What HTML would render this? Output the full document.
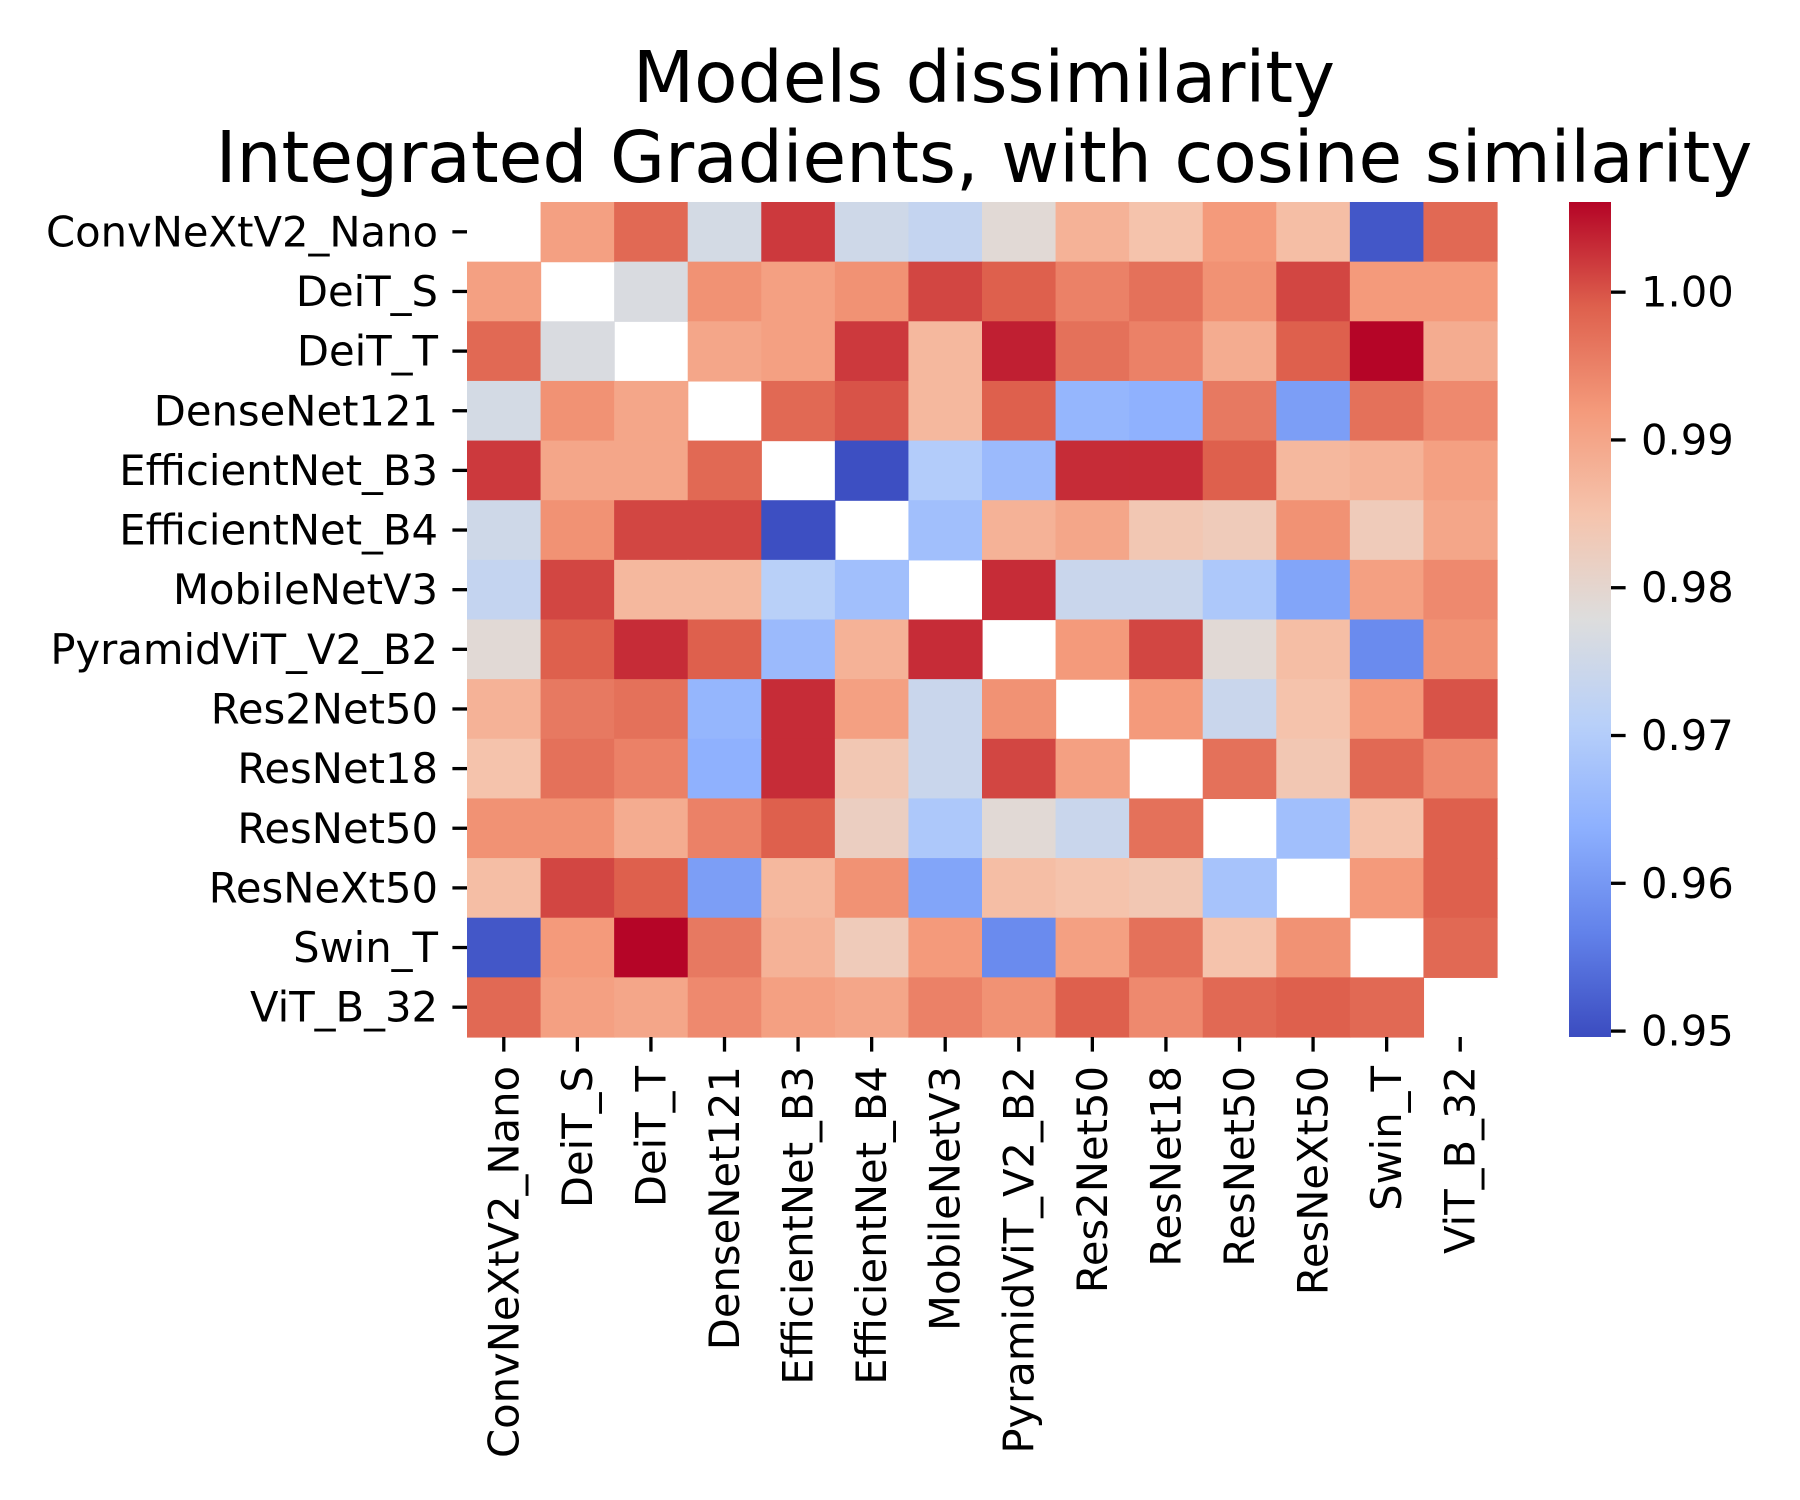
<!DOCTYPE html>
<html><head><meta charset="utf-8">
<style>
html,body{margin:0;padding:0;background:#fff;}
svg{display:block;font-family:"DejaVu Sans","Liberation Sans",sans-serif;}
</style></head>
<body>
<svg id="chart" width="1800" height="1500" viewBox="0 0 1800 1500" xmlns="http://www.w3.org/2000/svg">
  <defs>
    <linearGradient id="cw" x1="0" y1="1" x2="0" y2="0">
      <stop offset="0" stop-color="rgb(59,76,192)"/>
      <stop offset="0.125" stop-color="rgb(98,130,234)"/>
      <stop offset="0.25" stop-color="rgb(141,176,254)"/>
      <stop offset="0.375" stop-color="rgb(184,208,249)"/>
      <stop offset="0.5" stop-color="rgb(221,221,221)"/>
      <stop offset="0.625" stop-color="rgb(245,196,173)"/>
      <stop offset="0.75" stop-color="rgb(244,154,123)"/>
      <stop offset="0.875" stop-color="rgb(222,96,77)"/>
      <stop offset="1" stop-color="rgb(180,4,38)"/>
    </linearGradient>
  </defs>
  <text x="984" y="102" font-size="71" text-anchor="middle">Models dissimilarity</text>
  <text x="984" y="182" font-size="71" text-anchor="middle">Integrated Gradients, with cosine similarity</text>
  <g id="cells"></g>
  <g id="ylab"></g>
  <g id="xlab"></g>
  <rect x="1569" y="202" width="42" height="835" fill="url(#cw)"/>
  <g id="cbar"></g>
</svg>
<script>
const categories = ["ConvNeXtV2_Nano","DeiT_S","DeiT_T","DenseNet121","EfficientNet_B3","EfficientNet_B4","MobileNetV3","PyramidViT_V2_B2","Res2Net50","ResNet18","ResNet50","ResNeXt50","Swin_T","ViT_B_32"];
const row0 = [null,0.991,0.998,0.976,1.002,0.975,0.973,0.979,0.988,0.985,0.992,0.986,0.951,0.998];
const row1 = [0.991,null,0.977,0.993,0.991,0.993,1.001,0.999,0.995,0.997,0.993,1.001,0.992,0.992];
const row2 = [0.998,0.977,null,0.990,0.991,1.002,0.987,1.004,0.997,0.995,0.989,0.999,1.006,0.989];
const row3 = [0.976,0.993,0.990,null,0.998,1.000,0.987,0.999,0.965,0.964,0.996,0.961,0.997,0.994];
const row4 = [1.002,0.990,0.990,0.998,null,0.950,0.970,0.966,1.003,1.003,0.999,0.987,0.988,0.991];
const row5 = [0.975,0.993,1.001,1.001,0.950,null,0.967,0.988,0.990,0.984,0.983,0.993,0.983,0.990];
const row6 = [0.973,1.001,0.987,0.987,0.971,0.967,null,1.003,0.974,0.974,0.969,0.962,0.991,0.994];
const row7 = [0.979,0.999,1.003,0.999,0.966,0.988,1.003,null,0.992,1.001,0.979,0.986,0.958,0.993];
const row8 = [0.988,0.996,0.997,0.965,1.003,0.991,0.974,0.993,null,0.992,0.974,0.985,0.992,1.000];
const row9 = [0.985,0.997,0.995,0.964,1.003,0.984,0.974,1.001,0.991,null,0.997,0.984,0.998,0.994];
const row10 = [0.993,0.993,0.989,0.995,0.999,0.982,0.969,0.979,0.974,0.997,null,0.967,0.985,0.999];
const row11 = [0.986,1.001,0.999,0.961,0.987,0.993,0.962,0.986,0.985,0.984,0.968,null,0.992,0.999];
const row12 = [0.951,0.992,1.006,0.996,0.988,0.983,0.992,0.958,0.991,0.997,0.985,0.993,null,0.998];
const row13 = [0.998,0.991,0.990,0.994,0.991,0.990,0.995,0.993,0.999,0.994,0.998,0.999,0.998,null];
const values = [row0,row1,row2,row3,row4,row5,row6,row7,row8,row9,row10,row11,row12,row13];
const cbarTicks = [0.95,0.96,0.97,0.98,0.99,1.00];
const cbarTickLabels = ["0.95","0.96","0.97","0.98","0.99","1.00"];
const vmin = 0.9496, vmax = 1.0061;

const NS = "http://www.w3.org/2000/svg";
const L = 467, R = 1497, T = 202, B = 1037;
const n = categories.length;
const cw = (R - L) / n, ch = (B - T) / n;
const xPos = i => L + i * cw;
const yPos = i => T + i * ch;
const cbY = v => B - (v - vmin) / (vmax - vmin) * (B - T);

const stops = [[59,76,192],[98,130,234],[141,176,254],[184,208,249],[221,221,221],[245,196,173],[244,154,123],[222,96,77],[180,4,38]];
function cmap(v){
  let t = Math.max(0, Math.min(1, (v - vmin) / (vmax - vmin)));
  const p = t * 8, i = Math.min(7, Math.floor(p)), f = p - i;
  const a = stops[i], b = stops[i+1];
  return "rgb(" + a.map((c,k)=>Math.round(c + (b[k]-c)*f)).join(",") + ")";
}
function mk(tag, attrs, parent){
  const e = document.createElementNS(NS, tag);
  for (const k in attrs) e.setAttribute(k, attrs[k]);
  parent.appendChild(e);
  return e;
}
const cells = document.getElementById("cells");
values.forEach((row, r) => row.forEach((v, c) => {
  if (v === null) return;
  const rect = mk("rect", {x: xPos(c), y: yPos(r), width: cw + 0.6, height: ch + 0.6, fill: cmap(v)}, cells);
  
  
}));
const yl = document.getElementById("ylab"), xl = document.getElementById("xlab");
categories.forEach((name, i) => {
  const cy = yPos(i) + ch / 2;
  const t1 = mk("line", {x1: L - 14.6, x2: L, y1: cy, y2: cy, stroke: "#000", "stroke-width": 3.3}, yl);
  
  
  const lab = mk("text", {x: L - 29, y: cy, "font-size": 41.7, "text-anchor": "end", "dominant-baseline": "central"}, yl);
  lab.textContent = name;
  
  
  const cx = xPos(i) + cw / 2;
  const t2 = mk("line", {x1: cx, x2: cx, y1: B, y2: B + 14.6, stroke: "#000", "stroke-width": 3.3}, xl);
  
  
  const xlab = mk("text", {x: 0, y: 0, "font-size": 41.7, "text-anchor": "end", "dominant-baseline": "central", transform: "translate(" + cx + "," + (B + 29) + ") rotate(-90)"}, xl);
  xlab.textContent = name;
  
  
});
const cb = document.getElementById("cbar");
cbarTicks.forEach((v, i) => {
  const y = cbY(v);
  const t = mk("line", {x1: 1611, x2: 1625.6, y1: y, y2: y, stroke: "#000", "stroke-width": 3.3}, cb);
  
  
  const lab = mk("text", {x: 1641, y: y, "font-size": 41.7, "dominant-baseline": "central"}, cb);
  lab.textContent = cbarTickLabels[i];
  
  
});
</script>
</body></html>
